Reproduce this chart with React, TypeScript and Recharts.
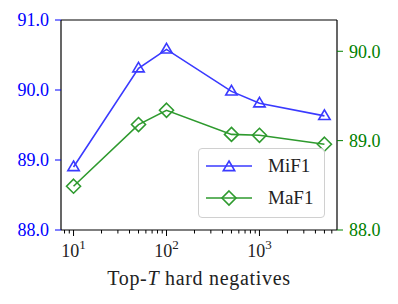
import React from 'react';
import { LineChart, Line, XAxis, YAxis, ReferenceLine } from 'recharts';

const topT = [10, 50, 100, 500, 1000, 5000];
const mif1 = [88.9, 90.31, 90.58, 89.98, 89.81, 89.63];
const maf1 = [88.49, 89.18, 89.34, 89.07, 89.06, 88.96];

const majorTicks = [10, 100, 1000];
const xTicks = [8, 9, 10, 20, 30, 40, 50, 60, 70, 80, 90, 100, 200, 300, 400, 500, 600, 700, 800, 900, 1000, 2000, 3000, 4000, 5000, 6000];
const leftTicks = [88, 89, 90, 91];
const rightTicks = [88, 89, 90];

const data = topT.map((t, i) => ({ t, mif1: mif1[i], maf1: maf1[i] }));

const FONT = "'Liberation Serif', 'Times New Roman', serif";
const BLUE = '#0000ff';
const BLUE_LINE = '#3a3aff';
const GREEN = '#008000';
const GREEN_LINE = '#2e9a2e';

const Triangle = ({ cx, cy, stroke, size = 6 }: any) => {
    if (cx == null || cy == null) return null;
    const h = size;
    return (
        <path
            d={`M${cx},${cy - h} L${cx + h * 0.95},${cy + h * 0.6} L${cx - h * 0.95},${cy + h * 0.6} Z`}
            fill="none"
            stroke={stroke}
            strokeWidth={1.6}
        />
    );
};

const Diamond = ({ cx, cy, stroke, size = 7 }: any) => {
    if (cx == null || cy == null) return null;
    const s = size;
    return (
        <path
            d={`M${cx},${cy - s} L${cx + s},${cy} L${cx},${cy + s} L${cx - s},${cy} Z`}
            fill="none"
            stroke={stroke}
            strokeWidth={1.6}
        />
    );
};

const XTick = ({ x, y, payload }: any) => {
    const v = payload.value;
    const major = majorTicks.includes(v);
    const exp = Math.round(Math.log10(v));
    return (
        <g>
            <line x1={x} y1={y} x2={x} y2={y + (major ? 6 : 3.5)} stroke="#000" strokeWidth={1} />
            {major && (
                <text x={x} y={y + 27} textAnchor="middle" fontSize={18} fontFamily={FONT} fill="#222">
                    10<tspan dy={-8} fontSize={13}>{exp}</tspan>
                </text>
            )}
        </g>
    );
};

const XLabel = ({ viewBox }: any) => {
    const cx = viewBox.x + viewBox.width / 2;
    return (
        <text x={cx} y={viewBox.y + 55} textAnchor="middle" fontSize={20} letterSpacing={0.7} fontFamily={FONT} fill="#222">
            Top-<tspan fontStyle="italic">T</tspan> hard negatives
        </text>
    );
};

const LegendBox = () => (
    <div
        style={{
            position: 'absolute',
            left: 198,
            top: 148,
            width: 127,
            height: 70,
            boxSizing: 'border-box',
            border: '1px solid #d0d0d0',
            borderRadius: 4,
            background: 'rgba(255,255,255,0.85)',
            fontFamily: FONT,
            fontSize: 19,
            color: '#222',
        }}
    >
        {[
            { name: 'MiF1', color: BLUE_LINE, shape: 'tri' },
            { name: 'MaF1', color: GREEN_LINE, shape: 'dia' },
        ].map((it, i) => (
            <div key={it.name} style={{ position: 'absolute', left: 0, top: 3 + i * 32, height: 28, display: 'flex', alignItems: 'center' }}>
                <svg width={54} height={28} style={{ marginLeft: 5 }}>
                    <line x1={2} y1={14} x2={48} y2={14} stroke={it.color} strokeWidth={1.6} />
                    {it.shape === 'tri' ? (
                        <Triangle cx={25} cy={15} stroke={it.color} />
                    ) : (
                        <Diamond cx={25} cy={14} stroke={it.color} />
                    )}
                </svg>
                <span style={{ marginLeft: 10 }}>{it.name}</span>
            </div>
        ))}
    </div>
);

export default function App() {
    return (
        <div style={{ position: 'absolute', left: 0, top: 0, width: 398, height: 304, background: '#fff' }}>
            <LineChart width={398} height={304} data={data} margin={{ top: 20, right: 0, bottom: 0, left: 0 }}>
                <XAxis
                    dataKey="t"
                    type="number"
                    scale="log"
                    domain={[7.33, 6825]}
                    ticks={xTicks}
                    interval={0}
                    height={74}
                    axisLine={{ stroke: '#000', strokeWidth: 1.2 }}
                    tickLine={false}
                    tickSize={0}
                    tickMargin={0}
                    tick={<XTick />}
                    allowDataOverflow
                    label={<XLabel />}
                />
                <YAxis
                    yAxisId="left"
                    domain={[88, 91]}
                    ticks={leftTicks}
                    width={61}
                    tickFormatter={(v: number) => v.toFixed(1)}
                    tick={{ fill: BLUE, fontSize: 18, fontFamily: FONT }}
                    tickLine={{ stroke: BLUE }}
                    tickSize={6}
                    tickMargin={6}
                    axisLine={{ stroke: '#000', strokeWidth: 1.2 }}
                    allowDataOverflow
                />
                <YAxis
                    yAxisId="right"
                    orientation="right"
                    domain={[88, 90.35]}
                    ticks={rightTicks}
                    width={61}
                    tickFormatter={(v: number) => v.toFixed(1)}
                    tick={{ fill: GREEN, fontSize: 18, fontFamily: FONT }}
                    tickLine={{ stroke: GREEN }}
                    tickSize={6}
                    tickMargin={6}
                    axisLine={{ stroke: '#000', strokeWidth: 1.2 }}
                    allowDataOverflow
                />
                <ReferenceLine yAxisId="left" y={91} stroke="#000" strokeWidth={1.2} />
                <Line
                    yAxisId="left"
                    dataKey="mif1"
                    stroke={BLUE_LINE}
                    strokeWidth={1.6}
                    dot={(p: any) => <Triangle key={p.index} cx={p.cx} cy={p.cy} stroke={BLUE_LINE} />}
                    activeDot={false}
                    isAnimationActive={false}
                />
                <Line
                    yAxisId="right"
                    dataKey="maf1"
                    stroke={GREEN_LINE}
                    strokeWidth={1.6}
                    dot={(p: any) => <Diamond key={p.index} cx={p.cx} cy={p.cy} stroke={GREEN_LINE} />}
                    activeDot={false}
                    isAnimationActive={false}
                />
            </LineChart>
            <LegendBox />
        </div>
    );
}
